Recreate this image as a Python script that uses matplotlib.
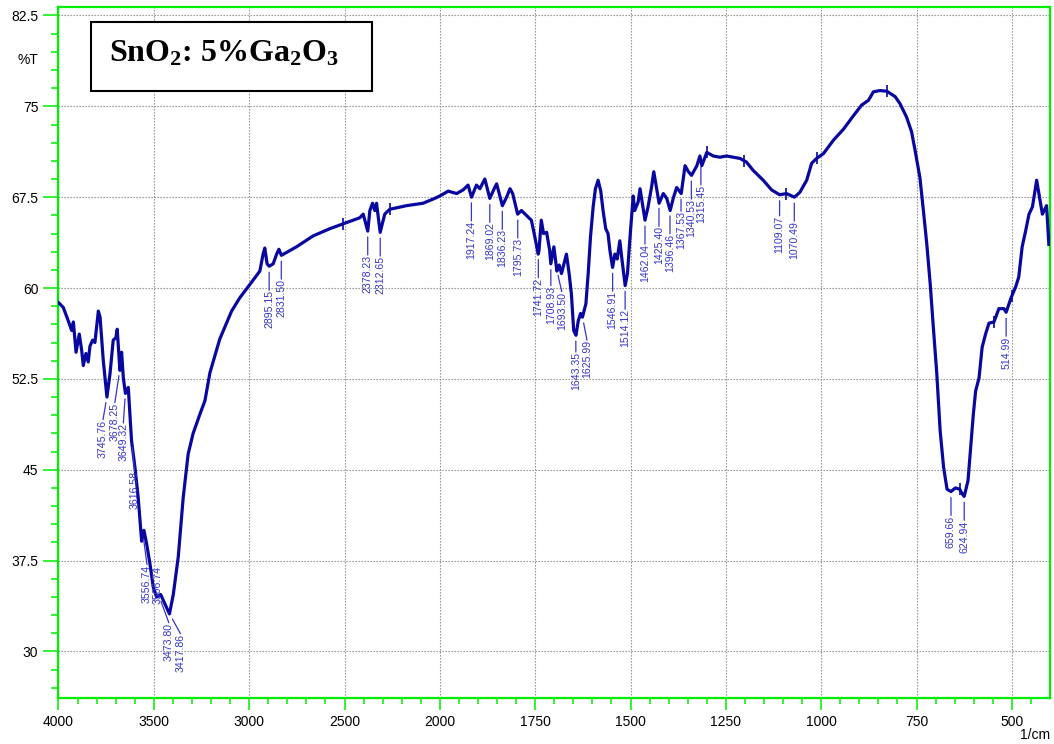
import numpy as np
import matplotlib
matplotlib.use("Agg")
import matplotlib.pyplot as plt
from matplotlib.patches import Rectangle

# spectrum (wavenumber 1/cm, %T)
wavenumber = np.array([
    4000, 3975, 3949, 3931, 3922, 3908, 3891, 3878, 3870, 3856,
    3844, 3835, 3821, 3809, 3791, 3782, 3765, 3746, 3730, 3713,
    3699, 3692, 3678, 3669, 3660, 3649, 3634, 3617, 3599, 3582,
    3564, 3552, 3538, 3520, 3503, 3485, 3464, 3447, 3418, 3398,
    3372, 3346, 3320, 3294, 3258, 3232, 3206, 3154, 3092, 3049,
    2996, 2944, 2927, 2918, 2906, 2895, 2874, 2856, 2844, 2831,
    2752, 2665, 2577, 2507, 2420, 2402, 2378, 2367, 2353, 2341,
    2332, 2313, 2289, 2263, 2175, 2088, 2027, 2000, 1978, 1956,
    1939, 1926, 1917, 1904, 1895, 1882, 1869, 1856, 1851, 1836,
    1825, 1816, 1809, 1796, 1786, 1773, 1760, 1754, 1742, 1740,
    1734, 1728, 1720, 1712, 1709, 1701, 1693, 1687, 1681, 1672,
    1668, 1661, 1655, 1649, 1643, 1637, 1631, 1626, 1617, 1611,
    1605, 1598, 1592, 1585, 1578, 1572, 1565, 1559, 1554, 1547,
    1541, 1535, 1528, 1523, 1514, 1508, 1502, 1493, 1489, 1480,
    1475, 1462, 1454, 1445, 1439, 1425, 1414, 1405, 1396, 1388,
    1379, 1367, 1357, 1348, 1340, 1326, 1318, 1313, 1300, 1283,
    1266, 1248, 1213, 1196, 1178, 1152, 1130, 1109, 1091, 1070,
    1056, 1038, 1025, 1012, 994, 968, 942, 916, 894, 876,
    863, 846, 828, 806, 793, 776, 763, 754, 741, 732,
    723, 714, 706, 697, 688, 679, 670, 660, 648, 637,
    630, 625, 615, 608, 601, 595, 586, 578, 569, 560,
    547, 534, 521, 515, 502, 490, 482, 473, 464, 455,
    446, 435, 429, 420, 409, 403])

transmittance = np.array([
    58.8, 58.4, 57.3, 56.5, 57.2, 54.7, 56.2, 54.8, 53.6, 54.6,
    53.9, 55.2, 55.7, 55.5, 58.1, 57.6, 54.0, 51.0, 52.9, 55.7,
    55.9, 56.6, 53.2, 54.7, 52.6, 51.3, 51.8, 47.4, 45.2, 42.7,
    39.1, 40.0, 38.9, 37.2, 35.3, 34.5, 34.7, 34.1, 33.1, 34.7,
    37.8, 42.7, 46.3, 48.0, 49.6, 50.7, 53.0, 55.8, 58.1, 59.2,
    60.3, 61.4, 62.8, 63.3, 62.0, 61.8, 62.0, 62.8, 63.2, 62.7,
    63.4, 64.3, 64.9, 65.3, 65.8, 66.1, 64.7, 66.4, 67.0, 66.4,
    67.0, 64.6, 66.1, 66.5, 66.8, 67.0, 67.4, 67.6, 68.0, 67.8,
    68.1, 68.5, 67.5, 68.5, 68.2, 69.0, 67.4, 68.3, 68.6, 66.8,
    67.5, 68.2, 67.8, 66.1, 66.4, 66.0, 65.6, 64.7, 62.8, 63.1,
    65.6, 64.5, 64.6, 63.1, 62.0, 63.4, 61.4, 61.9, 61.2, 62.3,
    62.8, 61.2, 59.5, 56.5, 56.1, 57.3, 57.9, 57.6, 58.7, 61.2,
    64.2, 66.7, 68.2, 68.9, 68.0, 66.4, 64.9, 64.5, 63.1, 61.7,
    62.8, 62.4, 63.9, 62.5, 60.2, 61.2, 63.9, 67.6, 66.4, 67.1,
    68.2, 65.6, 66.7, 68.3, 69.6, 67.0, 67.8, 67.4, 66.4, 67.4,
    68.3, 67.8, 70.1, 69.6, 69.3, 70.1, 70.9, 70.1, 71.2, 70.9,
    70.8, 70.9, 70.7, 70.4, 69.7, 68.9, 68.1, 67.7, 67.8, 67.5,
    67.9, 68.9, 70.3, 70.7, 71.1, 72.2, 73.1, 74.2, 75.1, 75.5,
    76.2, 76.3, 76.25, 75.8, 75.2, 74.1, 72.9, 71.4, 69.1, 66.4,
    63.6, 60.3, 56.8, 53.0, 48.2, 45.2, 43.4, 43.2, 43.5, 43.4,
    43.0, 42.8, 44.1, 46.9, 49.6, 51.5, 52.6, 55.1, 56.2, 57.1,
    57.2, 58.3, 58.3, 58.0, 59.2, 60.1, 60.9, 63.4, 64.7, 66.1,
    66.7, 68.9, 67.8, 66.1, 66.8, 63.6])

peak_labels = ["3745.76", "3678.25", "3649.32", "3616.58", "3556.74", "3506.74",
               "3473.80", "3417.86", "2895.15", "2831.50", "2378.23", "2312.65",
               "1917.24", "1869.02", "1836.23", "1795.73", "1741.72", "1708.93",
               "1693.50", "1643.35", "1625.99", "1546.91", "1514.12", "1462.04",
               "1425.40", "1396.46", "1367.53", "1340.53", "1315.45", "1109.07",
               "1070.49", "659.66", "624.94", "514.99"]

marker_wn = [2507, 2263, 1300, 1203, 1091, 1012, 828, 637, 547, 500]

x_major = [4000, 3500, 3000, 2500, 2000, 1750, 1500, 1250, 1000, 750, 500]
y_major = [30, 37.5, 45, 52.5, 60, 67.5, 75, 82.5]

# label placement (pixel offsets from the peak point on the curve) for crowded ones
label_offsets = {"3745.76": (-4, -23), "3678.25": (-5, -33), "3649.32": (-2, -30),
                 "3616.58": (3, -30), "3556.74": (4, -30), "3506.74": (5, 16),
                 "3473.80": (10, -27), "3417.86": (11, -20), "1643.35": (0, -17),
                 "1625.99": (4.5, -23), "1367.53": (0, -18), "1708.93": (0, -22),
                 "1693.50": (5, -22), "1109.07": (0, -21)}


def fwd(w):
    w = np.asarray(w, dtype=float)
    return np.where(w >= 2000, w, 2 * w - 2000)


def inv(v):
    v = np.asarray(v, dtype=float)
    return np.where(v >= 2000, v, (v + 2000) / 2)


def curve_at(w):
    return np.interp(w, wavenumber[::-1], transmittance[::-1])


green = "#00EE00"
line_blue = "#0808A0"
label_blue = "#3535C8"
px = 72 / 100  # points per pixel

fig = plt.figure(figsize=(10.54, 7.44), dpi=100)
ax = fig.add_axes([0.0555, 0.0625, 0.9407, 0.9281])
ax.set_xscale("function", functions=(fwd, inv))

ax.plot(wavenumber, transmittance, color=line_blue, lw=2.3, zorder=3)
ax.plot(marker_wn, curve_at(marker_wn), ls="none", marker="|", ms=9,
        mew=1.2, color=line_blue, zorder=3)

for lbl in peak_labels:
    w = float(lbl)
    t = curve_at(w)
    dx, dy = label_offsets.get(lbl, (0, -24))
    if dy < -8:
        ax.annotate("", xy=(w, t), xytext=(dx * px, dy * px),
                    textcoords="offset points",
                    arrowprops=dict(arrowstyle="-", color=label_blue, lw=0.9,
                                    shrinkA=0, shrinkB=6 * px), zorder=4)
    ax.annotate(lbl, xy=(w, t), xytext=(dx * px, dy * px),
                textcoords="offset points", rotation=90, ha="center", va="top",
                fontsize=7.6, family="Liberation Sans", color=label_blue, zorder=4)

ax.set_xlim(4000, 400)
ax.set_ylim(26.2, 83.2)
ax.set_xticks(x_major)
ax.set_xticks(list(range(3900, 2000, -100)) + list(range(1950, 400, -50)), minor=True)
ax.set_yticks(y_major)
ax.set_yticks(np.arange(27, 83.5, 1.5), minor=True)
ax.set_yticklabels(["{:g}".format(v) for v in y_major])
ax.set_xticklabels([str(v) for v in x_major])

for lab in ax.get_xticklabels() + ax.get_yticklabels():
    lab.set_family("Liberation Sans")
    lab.set_fontsize(10)

ax.tick_params(axis="y", which="major", length=10.5, width=1.1, color=green, pad=4)
ax.tick_params(axis="y", which="minor", length=5, width=1.1, color=green)
ax.tick_params(axis="x", which="major", length=8.5, width=1.1, color=green, pad=4)
ax.tick_params(axis="x", which="minor", length=4.5, width=1.1, color=green)
for s in ax.spines.values():
    s.set_color(green)
    s.set_linewidth(1.6)

ax.grid(True, which="major", ls=(0, (1.2, 1.5)), color="#888888", lw=0.8)

# sample name box
ax.add_patch(Rectangle((0.0328, 0.8783), 0.2834, 0.1000, transform=ax.transAxes,
                       fill=True, facecolor="white", edgecolor="black", lw=1.5, zorder=5))
plt.rcParams["mathtext.fontset"] = "custom"
plt.rcParams["mathtext.rm"] = "Liberation Serif:bold"
plt.rcParams["mathtext.it"] = "Liberation Serif:bold"
plt.rcParams["mathtext.bf"] = "Liberation Serif:bold"
ax.text(0.1674, 0.9204, r"SnO$_2$: 5%Ga$_2$O$_3$", transform=ax.transAxes,
        ha="center", va="baseline", fontsize=23, family="Liberation Serif",
        weight="bold", zorder=6)

fig.text(0.0266, 0.919, "%T", ha="center", va="center", fontsize=10,
         family="Liberation Sans")
fig.text(0.982, 0.012, "1/cm", ha="center", va="center", fontsize=10,
         family="Liberation Sans")

fig.savefig("out.png", dpi=100)
